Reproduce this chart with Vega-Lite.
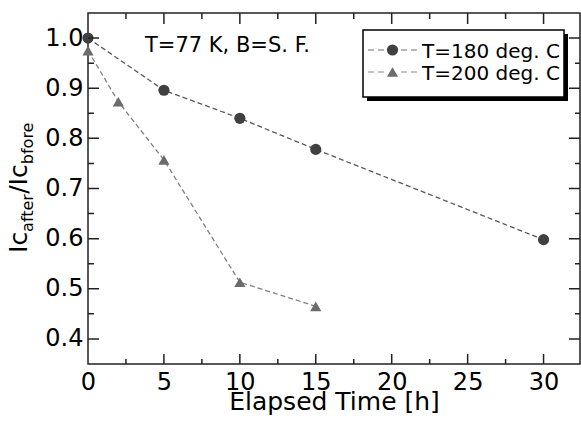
{
  "$schema": "https://vega.github.io/schema/vega-lite/v6.json",
  "width": 492,
  "height": 351,
  "autosize": {"type": "none"},
  "padding": {"left": 88, "top": 13, "right": 1, "bottom": 68},
  "background": "white",
  "config": {
    "view": {"stroke": "#222", "strokeWidth": 1.5},
    "font": "DejaVu Sans",
    "axis": {"grid": false, "domain": false, "ticks": false, "labelColor": "#000", "labelFont": "DejaVu Sans", "titleFont": "DejaVu Sans", "titleColor": "#000"}
  },
  "datasets": {
    "main": [
      {"series": "T=180 deg. C", "t": 0, "r": 1.0},
      {"series": "T=180 deg. C", "t": 5, "r": 0.896},
      {"series": "T=180 deg. C", "t": 10, "r": 0.840},
      {"series": "T=180 deg. C", "t": 15, "r": 0.778},
      {"series": "T=180 deg. C", "t": 30, "r": 0.598},
      {"series": "T=200 deg. C", "t": 0, "r": 0.975},
      {"series": "T=200 deg. C", "t": 2, "r": 0.873},
      {"series": "T=200 deg. C", "t": 5, "r": 0.757},
      {"series": "T=200 deg. C", "t": 10, "r": 0.513},
      {"series": "T=200 deg. C", "t": 15, "r": 0.465}
    ],
    "xmajor": [{"v": 5}, {"v": 10}, {"v": 15}, {"v": 20}, {"v": 25}, {"v": 30}],
    "xminor": [{"v": 2.5}, {"v": 7.5}, {"v": 12.5}, {"v": 17.5}, {"v": 22.5}, {"v": 27.5}],
    "ymajor": [{"v": 0.4}, {"v": 0.5}, {"v": 0.6}, {"v": 0.7}, {"v": 0.8}, {"v": 0.9}, {"v": 1.0}],
    "yminor": [{"v": 0.45}, {"v": 0.55}, {"v": 0.65}, {"v": 0.75}, {"v": 0.85}, {"v": 0.95}]
  },
  "layer": [
    {
      "data": {"name": "main"},
      "mark": {"type": "line", "strokeDash": [5, 3], "strokeWidth": 1.3},
      "encoding": {
        "x": {
          "field": "t", "type": "quantitative",
          "scale": {"domain": [0, 32.4], "nice": false, "zero": false},
          "axis": {
            "orient": "bottom",
            "values": [0, 5, 10, 15, 20, 25, 30],
            "format": "d",
            "labelFontSize": 24,
            "labelPadding": 6.5,
            "labelFlush": false,
            "title": "Elapsed Time [h]",
            "titleFontSize": 25,
            "titleFontWeight": "normal",
            "titleBaseline": "alphabetic",
            "titleX": 246,
            "titleY": 45
          }
        },
        "y": {
          "field": "r", "type": "quantitative",
          "scale": {"domain": [0.35, 1.05], "nice": false, "zero": false},
          "axis": {
            "orient": "left",
            "values": [0.4, 0.5, 0.6, 0.7, 0.8, 0.9, 1.0],
            "format": ".1f",
            "labelFontSize": 24,
            "labelPadding": 5,
            "labelFlush": false,
            "title": null
          }
        },
        "stroke": {
          "field": "series", "type": "nominal",
          "scale": {"domain": ["T=180 deg. C", "T=200 deg. C"], "range": ["#595959", "#808080"]},
          "legend": null
        }
      }
    },
    {
      "data": {"name": "main"},
      "mark": {"type": "point", "filled": true, "size": 125, "opacity": 1},
      "encoding": {
        "x": {"field": "t", "type": "quantitative", "scale": {"domain": [0, 32.4], "nice": false, "zero": false}},
        "y": {"field": "r", "type": "quantitative", "scale": {"domain": [0.35, 1.05], "nice": false, "zero": false}},
        "color": {
          "field": "series", "type": "nominal",
          "scale": {"domain": ["T=180 deg. C", "T=200 deg. C"], "range": ["#404040", "#6b6b6b"]},
          "legend": null
        },
        "shape": {
          "field": "series", "type": "nominal",
          "scale": {"domain": ["T=180 deg. C", "T=200 deg. C"], "range": ["circle", "triangle-up"]},
          "legend": null
        }
      }
    },
    {
      "data": {"name": "xmajor"},
      "mark": {"type": "rect", "fill": "#222", "stroke": "#222", "strokeWidth": 1.5, "opacity": 1},
      "encoding": {
        "x": {"field": "v", "type": "quantitative", "scale": {"domain": [0, 32.4], "nice": false, "zero": false}},
        "x2": {"field": "v"},
        "y": {"datum": 0.35, "type": "quantitative", "scale": {"domain": [0.35, 1.05], "nice": false, "zero": false}},
        "y2": {"datum": 0.36994}
      }
    },
    {
      "data": {"name": "xminor"},
      "mark": {"type": "rect", "fill": "#222", "stroke": "#222", "strokeWidth": 1.5, "opacity": 1},
      "encoding": {
        "x": {"field": "v", "type": "quantitative", "scale": {"domain": [0, 32.4], "nice": false, "zero": false}},
        "x2": {"field": "v"},
        "y": {"datum": 0.35, "type": "quantitative", "scale": {"domain": [0.35, 1.05], "nice": false, "zero": false}},
        "y2": {"datum": 0.35997}
      }
    },
    {
      "data": {"name": "xmajor"},
      "mark": {"type": "rect", "fill": "#222", "stroke": "#222", "strokeWidth": 1.5, "opacity": 1},
      "encoding": {
        "x": {"field": "v", "type": "quantitative", "scale": {"domain": [0, 32.4], "nice": false, "zero": false}},
        "x2": {"field": "v"},
        "y": {"datum": 1.05, "type": "quantitative", "scale": {"domain": [0.35, 1.05], "nice": false, "zero": false}},
        "y2": {"datum": 1.02806}
      }
    },
    {
      "data": {"name": "xminor"},
      "mark": {"type": "rect", "fill": "#222", "stroke": "#222", "strokeWidth": 1.5, "opacity": 1},
      "encoding": {
        "x": {"field": "v", "type": "quantitative", "scale": {"domain": [0, 32.4], "nice": false, "zero": false}},
        "x2": {"field": "v"},
        "y": {"datum": 1.05, "type": "quantitative", "scale": {"domain": [0.35, 1.05], "nice": false, "zero": false}},
        "y2": {"datum": 1.03803}
      }
    },
    {
      "data": {"name": "ymajor"},
      "mark": {"type": "rect", "fill": "#222", "stroke": "#222", "strokeWidth": 1.5, "opacity": 1},
      "encoding": {
        "y": {"field": "v", "type": "quantitative", "scale": {"domain": [0.35, 1.05], "nice": false, "zero": false}},
        "y2": {"field": "v"},
        "x": {"datum": 0, "type": "quantitative", "scale": {"domain": [0, 32.4], "nice": false, "zero": false}},
        "x2": {"datum": 0.7244}
      }
    },
    {
      "data": {"name": "yminor"},
      "mark": {"type": "rect", "fill": "#222", "stroke": "#222", "strokeWidth": 1.5, "opacity": 1},
      "encoding": {
        "y": {"field": "v", "type": "quantitative", "scale": {"domain": [0.35, 1.05], "nice": false, "zero": false}},
        "y2": {"field": "v"},
        "x": {"datum": 0, "type": "quantitative", "scale": {"domain": [0, 32.4], "nice": false, "zero": false}},
        "x2": {"datum": 0.3951}
      }
    },
    {
      "data": {"name": "ymajor"},
      "mark": {"type": "rect", "fill": "#222", "stroke": "#222", "strokeWidth": 1.5, "opacity": 1},
      "encoding": {
        "y": {"field": "v", "type": "quantitative", "scale": {"domain": [0.35, 1.05], "nice": false, "zero": false}},
        "y2": {"field": "v"},
        "x": {"datum": 31.6756, "type": "quantitative", "scale": {"domain": [0, 32.4], "nice": false, "zero": false}},
        "x2": {"datum": 32.4}
      }
    },
    {
      "data": {"name": "yminor"},
      "mark": {"type": "rect", "fill": "#222", "stroke": "#222", "strokeWidth": 1.5, "opacity": 1},
      "encoding": {
        "y": {"field": "v", "type": "quantitative", "scale": {"domain": [0.35, 1.05], "nice": false, "zero": false}},
        "y2": {"field": "v"},
        "x": {"datum": 32.0707, "type": "quantitative", "scale": {"domain": [0, 32.4], "nice": false, "zero": false}},
        "x2": {"datum": 32.4}
      }
    },
    {
      "data": {"values": [{}]},
      "mark": {"type": "text", "text": "T=77 K, B=S. F.", "align": "left", "baseline": "alphabetic", "fontSize": 21, "font": "DejaVu Sans", "color": "#000"},
      "encoding": {
        "x": {"datum": 3.754, "type": "quantitative", "scale": {"domain": [0, 32.4], "nice": false, "zero": false}},
        "y": {"datum": 0.9722, "type": "quantitative", "scale": {"domain": [0.35, 1.05], "nice": false, "zero": false}}
      }
    },
    {
      "data": {"values": [{}]},
      "mark": {"type": "text", "text": "Ic", "angle": 270, "align": "left", "baseline": "alphabetic", "fontSize": 25, "font": "DejaVu Sans", "color": "#000"},
      "encoding": {
        "x": {"datum": -4.017, "type": "quantitative", "scale": {"domain": [0, 32.4], "nice": false, "zero": false}},
        "y": {"datum": 0.5714, "type": "quantitative", "scale": {"domain": [0.35, 1.05], "nice": false, "zero": false}}
      }
    },
    {
      "data": {"values": [{}]},
      "mark": {"type": "text", "text": "after", "angle": 270, "align": "left", "baseline": "alphabetic", "fontSize": 16, "font": "DejaVu Sans", "color": "#000"},
      "encoding": {
        "x": {"datum": -3.622, "type": "quantitative", "scale": {"domain": [0, 32.4], "nice": false, "zero": false}},
        "y": {"datum": 0.6134, "type": "quantitative", "scale": {"domain": [0.35, 1.05], "nice": false, "zero": false}}
      }
    },
    {
      "data": {"values": [{}]},
      "mark": {"type": "text", "text": "/Ic", "angle": 270, "align": "left", "baseline": "alphabetic", "fontSize": 25, "font": "DejaVu Sans", "color": "#000"},
      "encoding": {
        "x": {"datum": -4.017, "type": "quantitative", "scale": {"domain": [0, 32.4], "nice": false, "zero": false}},
        "y": {"datum": 0.6894, "type": "quantitative", "scale": {"domain": [0.35, 1.05], "nice": false, "zero": false}}
      }
    },
    {
      "data": {"values": [{}]},
      "mark": {"type": "text", "text": "bfore", "angle": 270, "align": "left", "baseline": "alphabetic", "fontSize": 16, "font": "DejaVu Sans", "color": "#000"},
      "encoding": {
        "x": {"datum": -3.622, "type": "quantitative", "scale": {"domain": [0, 32.4], "nice": false, "zero": false}},
        "y": {"datum": 0.7485, "type": "quantitative", "scale": {"domain": [0.35, 1.05], "nice": false, "zero": false}}
      }
    },
    {
      "data": {"values": [{}]},
      "mark": {"type": "rect", "color": "#000", "opacity": 1},
      "encoding": {
        "x": {"datum": 18.373, "type": "quantitative", "scale": {"domain": [0, 32.4], "nice": false, "zero": false}},
        "x2": {"datum": 31.610},
        "y": {"datum": 1.0081, "type": "quantitative", "scale": {"domain": [0.35, 1.05], "nice": false, "zero": false}},
        "y2": {"datum": 0.8745}
      }
    },
    {
      "data": {"values": [{}]},
      "mark": {"type": "rect", "fill": "#fff", "stroke": "#000", "strokeWidth": 1.5, "opacity": 1},
      "encoding": {
        "x": {"datum": 18.110, "type": "quantitative", "scale": {"domain": [0, 32.4], "nice": false, "zero": false}},
        "x2": {"datum": 31.347},
        "y": {"datum": 1.0161, "type": "quantitative", "scale": {"domain": [0.35, 1.05], "nice": false, "zero": false}},
        "y2": {"datum": 0.8825}
      }
    },
    {
      "data": {"values": [{}]},
      "mark": {"type": "point", "filled": true, "opacity": 1, "size": 144, "color": "#6e6e6e", "shape": "M-4.08,-0.1H-3.08V0.1H-4.08ZM-2.42,-0.1H-1.42V0.1H-2.42ZM1.42,-0.1H2.42V0.1H1.42ZM3.08,-0.1H4.08V0.1H3.08Z"},
      "encoding": {
        "x": {"datum": 20.053, "type": "quantitative", "scale": {"domain": [0, 32.4], "nice": false, "zero": false}},
        "y": {"datum": 0.9762, "type": "quantitative", "scale": {"domain": [0.35, 1.05], "nice": false, "zero": false}}
      }
    },
    {
      "data": {"values": [{}]},
      "mark": {"type": "point", "filled": true, "opacity": 1, "size": 125, "color": "#404040", "shape": "circle"},
      "encoding": {
        "x": {"datum": 20.053, "type": "quantitative", "scale": {"domain": [0, 32.4], "nice": false, "zero": false}},
        "y": {"datum": 0.9762, "type": "quantitative", "scale": {"domain": [0.35, 1.05], "nice": false, "zero": false}}
      }
    },
    {
      "data": {"values": [{}]},
      "mark": {"type": "point", "filled": true, "opacity": 1, "size": 144, "color": "#888888", "shape": "M-4.08,-0.1H-3.08V0.1H-4.08ZM-2.42,-0.1H-1.42V0.1H-2.42ZM1.42,-0.1H2.42V0.1H1.42ZM3.08,-0.1H4.08V0.1H3.08Z"},
      "encoding": {
        "x": {"datum": 20.053, "type": "quantitative", "scale": {"domain": [0, 32.4], "nice": false, "zero": false}},
        "y": {"datum": 0.9323, "type": "quantitative", "scale": {"domain": [0.35, 1.05], "nice": false, "zero": false}}
      }
    },
    {
      "data": {"values": [{}]},
      "mark": {"type": "point", "filled": true, "opacity": 1, "size": 125, "color": "#6b6b6b", "shape": "triangle-up"},
      "encoding": {
        "x": {"datum": 20.053, "type": "quantitative", "scale": {"domain": [0, 32.4], "nice": false, "zero": false}},
        "y": {"datum": 0.9323, "type": "quantitative", "scale": {"domain": [0.35, 1.05], "nice": false, "zero": false}}
      }
    },
    {
      "data": {"values": [{}]},
      "mark": {"type": "text", "text": "T=180 deg. C", "align": "left", "baseline": "alphabetic", "fontSize": 20, "font": "DejaVu Sans", "color": "#000"},
      "encoding": {
        "x": {"datum": 21.996, "type": "quantitative", "scale": {"domain": [0, 32.4], "nice": false, "zero": false}},
        "y": {"datum": 0.9603, "type": "quantitative", "scale": {"domain": [0.35, 1.05], "nice": false, "zero": false}}
      }
    },
    {
      "data": {"values": [{}]},
      "mark": {"type": "text", "text": "T=200 deg. C", "align": "left", "baseline": "alphabetic", "fontSize": 20, "font": "DejaVu Sans", "color": "#000"},
      "encoding": {
        "x": {"datum": 21.996, "type": "quantitative", "scale": {"domain": [0, 32.4], "nice": false, "zero": false}},
        "y": {"datum": 0.9164, "type": "quantitative", "scale": {"domain": [0.35, 1.05], "nice": false, "zero": false}}
      }
    }
  ]
}
